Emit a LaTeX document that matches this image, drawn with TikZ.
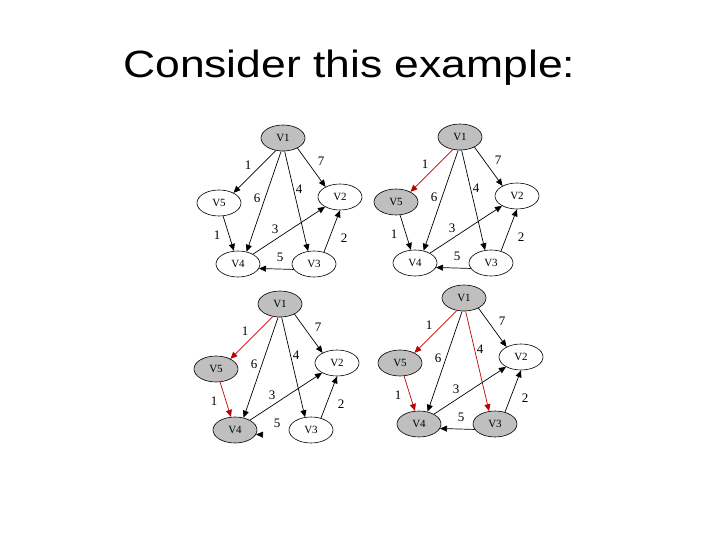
\documentclass[tikz,border=0pt]{standalone}
\usepackage{graphicx}
\usepackage{fontspec}
\setmainfont{Liberation Serif}
\newfontfamily\titlefont{Liberation Sans}
\usetikzlibrary{shapes.geometric, arrows.meta}

% one copy of the graph: #1 shift, #2 name prefix, #3 marked vertices/paths
\newcommand{\graphpanel}[3]{%
  \begin{scope}[shift={#1}, name prefix=#2-, #3]
    \node[vertex, visited] (v1) at (0,0) {V1};
    \node[vertex, s5] (v5) at (-64,65) {V5};
    \node[vertex] (v2) at (57,59) {V2};
    \node[vertex, s4] (v4) at (-45,126) {V4};
    \node[vertex, s3] (v3) at (31,126) {V3};

    \draw[arrow, p15] (v1.240) -- (v5.35);
    \draw[arrow] (v1.262) -- (v4.55);
    \draw[arrow, p13] (v1.277) -- (v3.115);
    \draw[arrow] (v1.-35) -- (v2.145);
    \draw[arrow, p54] (v5) -- (v4);
    \draw[arrow] (v4) -- (v2);
    \draw[arrow] (v3.50) -- (v2.south);
    \draw[arrow, p34] (v3.195) -- (v4.-12);

    \node[weight] (w15) at (-35,27) {1};
    \node[weight] (w12) at (38,23) {7};
    \node[weight] (w14) at (-26,60) {6};
    \node[weight] (w13) at (16,51) {4};
    \node[weight] (w42) at (-8,91) {3};
    \node[weight] (w54) at (-66,97) {1};
    \node[weight] (w32) at (61,100) {2};
    \node[weight] (w34) at (-3,119) {5};
  \end{scope}}

\begin{document}
\begin{tikzpicture}[
    x=1pt, y=-1pt,
    vertex/.style={
        draw,
        ellipse,
        line width=0.6pt,
        fill=white,
        minimum width=44pt,
        minimum height=26pt,
        inner sep=0pt,
        font=\fontsize{11}{11}\selectfont,
    },
    visited/.style={
        fill=gray!50,
    },
    weight/.style={
        inner sep=0pt,
        font=\fontsize{13}{13}\selectfont,
    },
    arrow/.style={
        -{Triangle[length=7pt, width=6pt]},
        line width=0.7pt,
    },
    marked/.style={
        draw=red!75!black,
    },
    s5/.style={}, s4/.style={}, s3/.style={},
    p15/.style={}, p54/.style={}, p13/.style={}, p34/.style={},
]

    \useasboundingbox (0,0) rectangle (720,540);

    \node[anchor=base west, inner sep=0pt] (title) at (123,78)
        {\scalebox{1.17}[1]{\titlefont\fontsize{38}{44}\selectfont Consider this example:}};

    \graphpanel{(283,138)}{a}{}
    \graphpanel{(460,137)}{b}{s5/.style={visited}, p15/.style={marked}}
    \graphpanel{(280,304)}{c}{s5/.style={visited}, s4/.style={visited},
        p15/.style={marked}, p54/.style={marked}, p34/.style={shorten <=29pt}}
    \graphpanel{(464,298)}{d}{s5/.style={visited}, s4/.style={visited}, s3/.style={visited},
        p15/.style={marked}, p54/.style={marked}, p13/.style={marked}}

\end{tikzpicture}
\end{document}
